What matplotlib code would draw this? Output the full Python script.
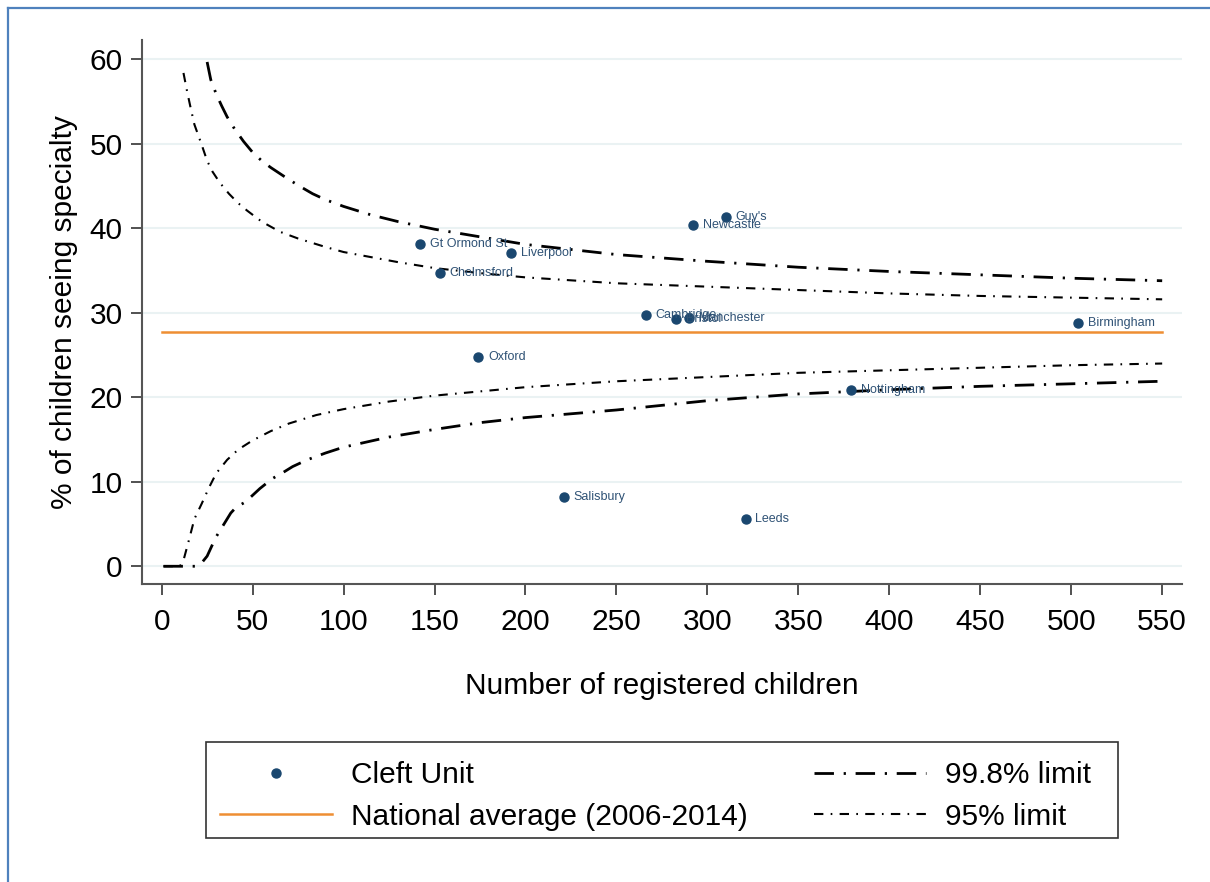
import matplotlib
matplotlib.use('Agg')
import matplotlib.pyplot as plt
from matplotlib.lines import Line2D
from matplotlib.patches import Rectangle

plt.rcParams['font.family'] = ['Liberation Sans', 'DejaVu Sans']

# Cleft units: registered children vs % seeing specialty
units = ['Gt Ormond St', 'Chelmsford', 'Liverpool', 'Oxford', 'Salisbury',
         'Cambridge', 'Bristol', 'Manchester', 'Newcastle', "Guy's", 'Leeds',
         'Nottingham', 'Birmingham']
registered = [142, 153, 192, 174, 221, 266, 283, 290, 292, 310, 321, 379, 504]
pct_seen = [38.1, 34.7, 37.1, 24.8, 8.2, 29.8, 29.3, 29.4, 40.4, 41.4, 5.6, 20.9, 28.8]

national_avg = 27.7

# control limits
n_up998 = [25, 27, 30, 33, 36, 40, 45, 50, 55, 60, 67, 75, 83, 90, 100, 115, 130,
           150, 175, 200, 225, 250, 300, 350, 400, 450, 500, 550]
up998 = [59.7, 57.6, 55.9, 54.5, 53.2, 51.8, 50.3, 49.0, 48.0, 47.2, 46.2, 45.1,
         44.1, 43.4, 42.6, 41.6, 40.8, 39.9, 39.0, 38.1, 37.5, 36.9, 36.1, 35.4,
         34.9, 34.5, 34.1, 33.8]

n_up95 = [12, 14, 16, 18, 20, 22, 25, 28, 32, 37, 42, 47, 55, 65, 75, 90, 100, 115,
          130, 150, 175, 200, 250, 300, 350, 400, 450, 500, 550]
up95 = [58.4, 56.2, 54.2, 52.3, 51.1, 49.9, 48.0, 46.7, 45.4, 44.1, 43.0, 42.1,
        40.8, 39.6, 38.8, 37.8, 37.2, 36.6, 36.0, 35.3, 34.7, 34.2, 33.5, 33.1,
        32.7, 32.3, 32.0, 31.8, 31.6]

n_lo95 = [1, 5, 10, 12, 15, 18, 22, 26, 30, 36, 42, 50, 60, 70, 85, 100, 125, 150,
          175, 200, 250, 300, 350, 400, 450, 500, 550]
lo95 = [0, 0, 0, 0.7, 3.1, 5.6, 7.4, 9.3, 11.0, 12.6, 13.8, 14.9, 16.0, 16.9, 17.9,
        18.6, 19.5, 20.2, 20.7, 21.2, 21.9, 22.4, 22.9, 23.2, 23.5, 23.8, 24.0]

n_lo998 = [1, 10, 19, 22, 25, 28, 30, 34, 38, 41, 46, 50, 54, 61, 66, 72, 80, 90,
           100, 125, 150, 175, 200, 250, 300, 350, 400, 450, 500, 550]
lo998 = [0, 0, 0, 0.4, 1.2, 2.6, 3.5, 4.9, 6.3, 7.0, 7.6, 8.4, 9.2, 10.4, 11.0, 11.8,
         12.6, 13.4, 14.1, 15.3, 16.2, 17.0, 17.6, 18.5, 19.6, 20.4, 20.9, 21.3,
         21.6, 21.9]

navy = '#1a476f'
orange = '#EE8E33'
ls998 = (0, (7, 3.5, 0.8, 3.5))
ls95 = (0, (4.5, 3.5, 0.8, 3.5))
fs = 21.5

fig = plt.figure(figsize=(12.1, 8.82), dpi=100)
ax = fig.add_axes([142 / 1210, 1 - 584 / 882, 1040 / 1210, 544 / 882])

ax.set_xlim(-10.8, 560.9)
ax.set_ylim(-2.1, 62.3)

for y in range(0, 70, 10):
    ax.axhline(y, color='#EAF2F3', lw=1.5, zorder=0)

ax.plot(n_up998, up998, color='black', lw=2.0, linestyle=ls998)
ax.plot(n_lo998, lo998, color='black', lw=2.0, linestyle=ls998)
ax.plot(n_up95, up95, color='black', lw=1.5, linestyle=ls95)
ax.plot(n_lo95, lo95, color='black', lw=1.5, linestyle=ls95)
ax.plot([0, 550], [national_avg, national_avg], color=orange, lw=1.8)

ax.plot(registered, pct_seen, 'o', color=navy, ms=6.5, zorder=5)
for name, x, y in zip(units, registered, pct_seen):
    ax.annotate(name, (x, y), xytext=(7, 0), textcoords='offset points',
                va='center', ha='left', fontsize=9, color='#2f5275', zorder=6)

ax.set_xticks(range(0, 551, 50))
ax.set_yticks(range(0, 61, 10))
ax.tick_params(axis='both', labelsize=fs, length=8, width=1.2, color='#333333')
ax.tick_params(axis='x', pad=9)
ax.tick_params(axis='y', pad=6)
for s in ['top', 'right']:
    ax.spines[s].set_visible(False)
for s in ['left', 'bottom']:
    ax.spines[s].set_color('#555555')
    ax.spines[s].set_linewidth(1.5)

ax.set_xlabel('Number of registered children', fontsize=fs, labelpad=26)
ax.set_ylabel('% of children seeing specialty', fontsize=fs, labelpad=8)

# legend box
fig.patches.append(Rectangle((206 / 1210, 1 - 838 / 882), 912 / 1210, 96 / 882,
                             transform=fig.transFigure, fill=False,
                             edgecolor='#333333', lw=1.2))
handles = [
    Line2D([], [], marker='o', color=navy, ls='none', ms=6.5),
    Line2D([], [], color=orange, lw=1.8),
    Line2D([], [], color='black', lw=2.0, linestyle=ls998),
    Line2D([], [], color='black', lw=1.5, linestyle=ls95),
]
labels = ['Cleft Unit', 'National average (2006-2014)', '99.8% limit', '95% limit']
fig.legend(handles, labels, loc='center left',
           bbox_to_anchor=(205 / 1210, 1 - 796 / 882), ncol=2, frameon=False,
           fontsize=fs, handlelength=3.75, handletextpad=0.65, columnspacing=2.2,
           labelspacing=0.45, borderpad=0)

# screenshot border
fig.add_artist(Line2D([8 / 1210, 8 / 1210], [0, 1 - 8 / 882], color='#4F81BD',
                      lw=1.6, transform=fig.transFigure))
fig.add_artist(Line2D([8 / 1210, 1], [1 - 8 / 882, 1 - 8 / 882], color='#4F81BD',
                      lw=1.6, transform=fig.transFigure))

fig.savefig('out.png', dpi=100)
